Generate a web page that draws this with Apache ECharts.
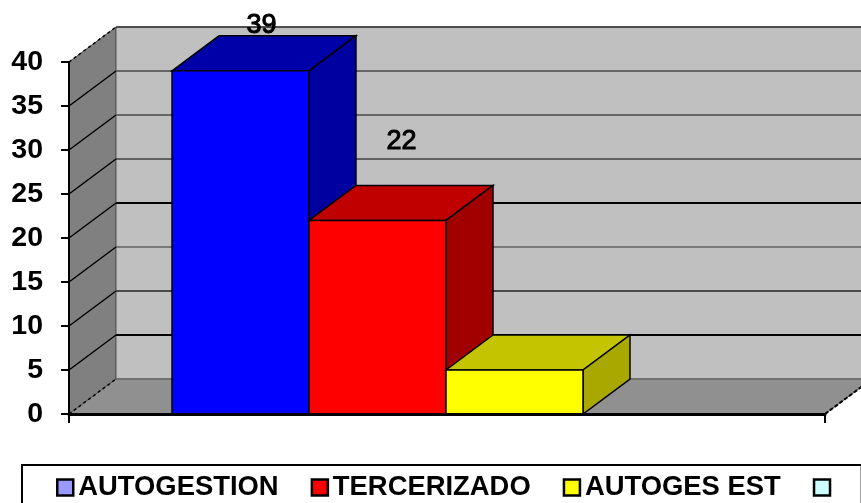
<!DOCTYPE html>
<html>
<head>
<meta charset="utf-8">
<title>Chart</title>
<style>
  html, body { margin: 0; padding: 0; background: #fff; }
  #chart { width: 861px; height: 503px; overflow: hidden; }
</style>
<script src="https://cdn.jsdelivr.net/npm/echarts@6/dist/echarts.min.js"></script>
</head>
<body>
<div id="chart"></div>
<script>
const categories = [""];
const seriesNames = ["AUTOGESTION", "TERCERIZADO", "AUTOGES EST", " "];
const seriesValues = [39, 22, 5, 0];
const yTicks = [0, 5, 10, 15, 20, 25, 30, 35, 40];

// front, top, side colours of each bar
const barColors = [
  ["#0000FF", "#0000A8", "#0000A0"],
  ["#FF0000", "#C00000", "#A00000"],
  ["#FFFF00", "#C4C400", "#A8A800"],
  ["#CCFFFF", "#99CCCC", "#88AAAA"],
];
const legendColors = ["#9999FF", "#FF0000", "#FFFF00", "#CCFFFF"];
const gridLineStyles = [
  null,
  ["#000", 2],
  ["#222", 1.5],
  ["#333", 1],
  ["#000", 2],
  ["#000", 1],
  ["#666", 2],
  ["#666", 2],
  ["#333", 1.5],
];
// data labels sit away from the bars in the original
const labelOffsets = [[21, -45], [24, -79], null, null];

const depthX = 47;
const depthY = -35;
const gapRatio = 103 / 756;
const barRatio = 137 / 756;

function poly(points, fill, stroke, lineWidth) {
  return {
    type: "polygon",
    shape: { points: points },
    style: { fill: fill, stroke: stroke, lineWidth: lineWidth },
  };
}

function line(points, stroke, lineWidth, dash) {
  return {
    type: "polyline",
    shape: { points: points },
    style: { fill: null, stroke: stroke, lineWidth: lineWidth, lineDash: dash || null },
  };
}

function renderWalls(params, api) {
  const band = api.size([1, 0])[0];
  const left = api.coord([0, 0])[0] - band / 2;
  const right = left + band;
  const y0 = api.coord([0, 0])[1];
  const y40 = api.coord([0, 40])[1];
  const children = [
    poly([[left, y40], [left + depthX, y40 + depthY], [left + depthX, y0 + depthY], [left, y0]], "#808080", "#555", 1),
    poly([[left + depthX, y40 + depthY], [right + depthX, y40 + depthY], [right + depthX, y0 + depthY], [left + depthX, y0 + depthY]], "#C0C0C0", "#555", 1),
    poly([[left, y0], [left + depthX, y0 + depthY], [right + depthX, y0 + depthY], [right, y0]], "#909090", "#555", 1),
    line([[left, y0], [left + depthX, y0 + depthY]], "#000", 1.5, [3, 3]),
    line([[right, y0], [right + depthX, y0 + depthY]], "#000", 2, [4, 2]),
    line([[left, y40], [left + depthX, y40 + depthY]], "#000", 1.5, [3, 3]),
  ];
  yTicks.forEach(function (t, i) {
    const style = gridLineStyles[i];
    if (!style) return;
    const y = api.coord([0, t])[1];
    children.push(line([[left + depthX, y + depthY], [right + depthX, y + depthY]], style[0], style[1]));
    if (t < 40) children.push(line([[left, y], [left + depthX, y + depthY]], "#000", 1.5));
  });
  return { type: "group", children: children };
}

function makeBarRenderer(index) {
  return function (params, api) {
    const value = api.value(1);
    if (!value) return { type: "group", children: [] };
    const band = api.size([1, 0])[0];
    const w = band * barRatio;
    const x0 = api.coord([0, 0])[0] - band / 2 + band * gapRatio + index * w;
    const x1 = x0 + w;
    const yb = api.coord([0, 0])[1];
    const yt = api.coord([0, value])[1];
    const c = barColors[index];
    const children = [
      poly([[x0, yt], [x0 + depthX, yt + depthY], [x1 + depthX, yt + depthY], [x1, yt]], c[1], "#000", 1.5),
      poly([[x1, yt], [x1 + depthX, yt + depthY], [x1 + depthX, yb + depthY], [x1, yb]], c[2], "#000", 1.5),
      poly([[x0, yt], [x1, yt], [x1, yb], [x0, yb]], c[0], "#000", 1.5),
    ];
    const off = labelOffsets[index];
    if (off) {
      children.push({
        type: "text",
        style: {
          text: String(value),
          x: (x0 + x1) / 2 + off[0],
          y: yt + off[1],
          align: "center",
          verticalAlign: "middle",
          fill: "#000",
          stroke: "#000",
          lineWidth: 1,
          font: "27px 'Liberation Sans', Arial, sans-serif",
        },
      });
    }
    return { type: "group", children: children };
  };
}

const chart = echarts.init(document.getElementById("chart"), null, { renderer: "canvas" });

const series = [
  {
    type: "custom",
    name: "walls",
    renderItem: renderWalls,
    data: [[0, 0]],
    encode: { x: 0, y: 1 },
    silent: true,
    z: 1,
    clip: false,
  },
];
seriesNames.forEach(function (name, i) {
  series.push({
    type: "custom",
    name: name,
    renderItem: makeBarRenderer(i),
    data: [[0, seriesValues[i]]],
    encode: { x: 0, y: 1 },
    itemStyle: { color: legendColors[i] },
    z: 2 + i,
    clip: false,
  });
});

chart.setOption({
  animation: false,
  backgroundColor: "#fff",
  grid: { left: 69, right: 36, top: 62, bottom: 89, containLabel: false },
  legend: {
    left: 22,
    top: 465,
    orient: "horizontal",
    width: 800,
    padding: [9, 19, 30, 34],
    borderColor: "#000",
    borderWidth: 2,
    backgroundColor: "#fff",
    itemGap: 32,
    itemWidth: 16,
    itemHeight: 16,
    selectedMode: false,
    icon: "rect",
    textStyle: {
      color: "#000",
      fontFamily: "'Liberation Sans', Arial, sans-serif",
      fontWeight: "bold",
      fontSize: 27.4,
      padding: [0, 0, 0, 0],
    },
    data: seriesNames.map(function (name, i) {
      return {
        name: name,
        itemStyle: { color: legendColors[i], borderColor: "#000", borderWidth: 2.5 },
      };
    }),
  },
  xAxis: {
    type: "category",
    data: categories,
    boundaryGap: true,
    z: 10,
    axisLine: { lineStyle: { color: "#000", width: 3 } },
    axisTick: { show: true, length: 9, lineStyle: { color: "#000", width: 2 } },
    axisLabel: { show: false },
    splitLine: { show: false },
  },
  yAxis: {
    type: "value",
    min: 0,
    max: 40,
    interval: 5,
    z: 10,
    axisLine: { show: true, lineStyle: { color: "#000", width: 2 } },
    axisTick: { show: true, length: 8, lineStyle: { color: "#000", width: 2 } },
    axisLabel: {
      color: "#000",
      margin: 26,
      fontFamily: "'Liberation Sans', Arial, sans-serif",
      fontWeight: "bold",
      fontSize: 28.5,
    },
    splitLine: { show: false },
  },
  series: series,
});
</script>
</body>
</html>
